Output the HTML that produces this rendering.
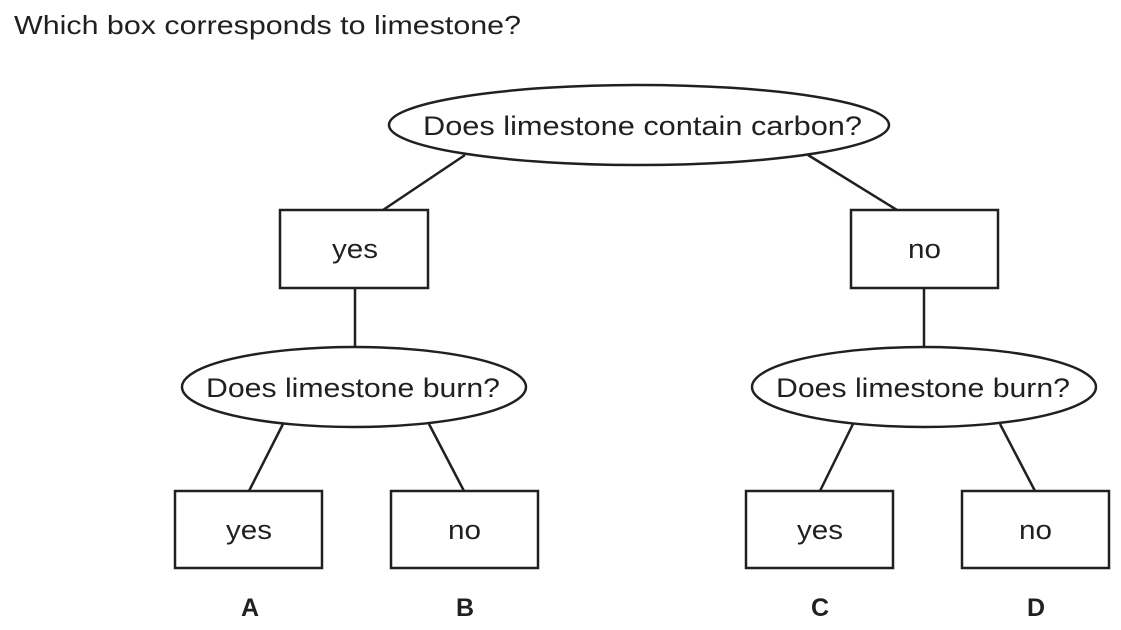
<!DOCTYPE html>
<html><head><meta charset="utf-8"><style>
html,body{margin:0;padding:0;background:#fff;}
svg{display:block;}
text{font-family:"Liberation Sans",Arial,sans-serif;fill:#231f20;}
</style></head><body>
<svg width="1121" height="630" viewBox="0 0 1121 630" xmlns="http://www.w3.org/2000/svg">
<text x="14" y="34" font-size="26" textLength="507" lengthAdjust="spacingAndGlyphs">Which box corresponds to limestone?</text>
<g stroke="#231f20" stroke-width="2.5" fill="#fff">
<line x1="465" y1="155" x2="383" y2="210"/>
<line x1="808" y1="155" x2="897" y2="210"/>
<line x1="355" y1="288" x2="355" y2="348"/>
<line x1="924" y1="288" x2="924" y2="348"/>
<line x1="283" y1="424" x2="249" y2="491"/>
<line x1="429" y1="424" x2="464" y2="491"/>
<line x1="853" y1="424" x2="820" y2="491"/>
<line x1="1000" y1="424" x2="1035" y2="491"/>
<ellipse cx="639" cy="125" rx="250" ry="40"/>
<rect x="280" y="210" width="148" height="78"/>
<rect x="851" y="210" width="147" height="78"/>
<ellipse cx="354" cy="387" rx="172" ry="40"/>
<ellipse cx="924" cy="387" rx="172" ry="40"/>
<rect x="175" y="491" width="147" height="77"/>
<rect x="391" y="491" width="147" height="77"/>
<rect x="746" y="491" width="147" height="77"/>
<rect x="962" y="491" width="147" height="77"/>
</g>
<g font-size="27">
<text x="423" y="135" textLength="439" lengthAdjust="spacingAndGlyphs">Does limestone contain carbon?</text>
<text x="332" y="258" textLength="46" lengthAdjust="spacingAndGlyphs">yes</text>
<text x="908" y="258" textLength="33" lengthAdjust="spacingAndGlyphs">no</text>
<text x="206" y="397" textLength="294" lengthAdjust="spacingAndGlyphs">Does limestone burn?</text>
<text x="776" y="397" textLength="294" lengthAdjust="spacingAndGlyphs">Does limestone burn?</text>
<text x="226" y="539" textLength="46" lengthAdjust="spacingAndGlyphs">yes</text>
<text x="448" y="539" textLength="33" lengthAdjust="spacingAndGlyphs">no</text>
<text x="797" y="539" textLength="46" lengthAdjust="spacingAndGlyphs">yes</text>
<text x="1019" y="539" textLength="33" lengthAdjust="spacingAndGlyphs">no</text>
</g>
<g font-size="25" font-weight="bold" text-anchor="middle">
<text x="250" y="616">A</text>
<text x="465" y="616">B</text>
<text x="820" y="616">C</text>
<text x="1036" y="616">D</text>
</g>
</svg>
</body></html>
